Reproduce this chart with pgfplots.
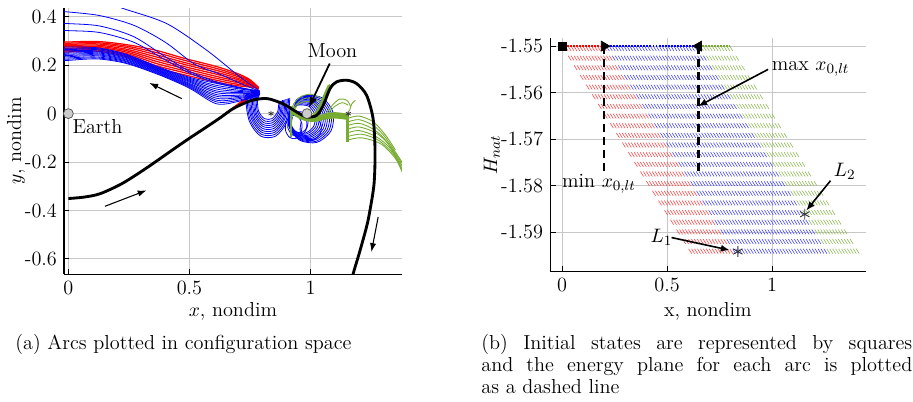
\documentclass[border=0pt]{standalone}
\usepackage{fontspec}
\usepackage{pgfplots}
\pgfplotsset{compat=1.18}
\usetikzlibrary{arrows.meta}
\definecolor{mgreen}{rgb}{0.466,0.674,0.188}
\definecolor{mred}{rgb}{1,0,0}
\definecolor{mblue}{rgb}{0,0,1}
\definecolor{gridc}{gray}{0.78}
\pgfplotsset{
 mystyle/.style={
   scale only axis, axis lines*=left, tick align=inside, major tick length=3pt,
   grid=major, major grid style={gridc, line width=0.5pt},
   axis line style={line width=0.6pt},
   tick style={black, line width=0.5pt},
   unbounded coords=jump,
 },
 rl/.style={mred, line width=0.7pt, smooth},
 bl/.style={mblue, line width=0.45pt, smooth},
 gl/.style={mgreen, line width=0.5pt, smooth},
 hatch/.style={line width=0.32pt, dash pattern=on 3.2pt off 3.2pt},
}
\begin{document}
\fontsize{11.4}{13.7}\selectfont
\begin{tikzpicture}
\path[use as bounding box] (0,0) rectangle (513.6pt,225.6pt);
% ---------------- left axis ----------------
\begin{axis}[mystyle, at={(36pt,71.44pt)}, anchor=south west, width=190.1pt, height=149.6pt,
 xmin=-0.018, xmax=1.377, ymin=-0.663, ymax=0.436,
 xtick={0,0.5,1}, xticklabels={0,0.5,1},
 ytick={-0.6,-0.4,-0.2,0,0.2,0.4}, yticklabels={-0.6,-0.4,-0.2,0,0.2,0.4},
 xlabel={$x$, nondim}, ylabel={$y$, nondim},
 xlabel style={at={(axis description cs:0.5,0)}, anchor=base, yshift=-23.6pt},
 ylabel style={at={([xshift=-27pt]axis description cs:0,0.5)}, anchor=center},
]
% red wedge
\addplot[mred, line width=0.5pt] coordinates {(0.598,-0.036)(0.785,0.104) (0,nan) (0.62,-0.022)(0.785,0.104) (0,nan) (0.64,-0.008)(0.785,0.104) (0,nan) (0.66,0.007)(0.785,0.104) (0,nan) (0.68,0.020)(0.785,0.104) (0,nan) (0.70,0.030)(0.785,0.104) (0,nan) (0.72,0.040)(0.785,0.104) (0,nan) (0.745,0.050)(0.785,0.104)};
% red return arcs
\addplot[rl] coordinates {(0.785,0.108)(0.75,0.140)(0.70,0.165)(0.61,0.195)(0.48,0.228)(0.36,0.262)(0.24,0.285)(0.12,0.298)(0,0.296)(-0.02,0.296)};
\addplot[rl] coordinates {(0.785,0.1075)(0.75,0.136)(0.70,0.159)(0.61,0.187)(0.48,0.220)(0.36,0.253)(0.24,0.279)(0.12,0.293)(0,0.291)(-0.02,0.291)};
\addplot[rl] coordinates {(0.785,0.107)(0.75,0.133)(0.70,0.153)(0.61,0.179)(0.48,0.211)(0.36,0.244)(0.24,0.273)(0.12,0.288)(0,0.286)(-0.02,0.286)};
\addplot[rl] coordinates {(0.785,0.1065)(0.75,0.129)(0.70,0.146)(0.61,0.171)(0.48,0.203)(0.36,0.235)(0.24,0.266)(0.12,0.283)(0,0.281)(-0.02,0.281)};
\addplot[rl] coordinates {(0.785,0.106)(0.75,0.125)(0.70,0.140)(0.61,0.163)(0.48,0.194)(0.36,0.226)(0.24,0.260)(0.12,0.278)(0,0.276)(-0.02,0.276)};
\addplot[rl] coordinates {(0.785,0.1055)(0.75,0.121)(0.70,0.134)(0.61,0.154)(0.48,0.186)(0.36,0.217)(0.24,0.254)(0.12,0.273)(0,0.270)(-0.02,0.270)};
\addplot[rl] coordinates {(0.785,0.105)(0.75,0.118)(0.70,0.128)(0.61,0.146)(0.48,0.177)(0.36,0.208)(0.24,0.248)(0.12,0.268)(0,0.265)(-0.02,0.265)};
\addplot[rl] coordinates {(0.785,0.1045)(0.75,0.114)(0.70,0.121)(0.61,0.138)(0.48,0.169)(0.36,0.199)(0.24,0.241)(0.12,0.263)(0,0.260)(-0.02,0.260)};
\addplot[rl] coordinates {(0.785,0.104)(0.75,0.110)(0.70,0.115)(0.61,0.130)(0.48,0.160)(0.36,0.190)(0.24,0.235)(0.12,0.258)(0,0.255)(-0.02,0.255)};
% blue top lines
\addplot[bl] coordinates {(-0.02,0.421)(0,0.42)(0.13,0.405)(0.27,0.365)(0.40,0.295)(0.52,0.205)(0.62,0.165)(0.71,0.125)(0.79,0.092)};
\addplot[bl] coordinates {(-0.02,0.373)(0,0.372)(0.13,0.362)(0.27,0.318)(0.40,0.235)(0.50,0.175)(0.60,0.135)(0.70,0.110)(0.79,0.092)};
\addplot[bl] coordinates {(-0.02,0.344)(0,0.343)(0.13,0.335)(0.27,0.295)(0.40,0.222)(0.50,0.168)(0.60,0.130)(0.70,0.107)(0.79,0.092)};
\addplot[bl] coordinates {(0.20,0.445)(0.227,0.434)(0.406,0.372)(0.571,0.262)(0.708,0.152)(0.777,0.103)(0.79,0.092)};
% blue band
\addplot[bl] coordinates {(-0.02,0.275)(0,0.275)(0.12,0.272)(0.24,0.245)(0.38,0.190)(0.50,0.150)(0.61,0.125)(0.70,0.108)(0.79,0.092)};
\addplot[bl] coordinates {(-0.02,0.270)(0,0.270)(0.12,0.268)(0.24,0.242)(0.38,0.187)(0.50,0.146)(0.61,0.117)(0.70,0.103)(0.79,0.091)};
\addplot[bl] coordinates {(-0.02,0.265)(0,0.265)(0.12,0.264)(0.24,0.238)(0.38,0.184)(0.50,0.142)(0.61,0.110)(0.70,0.097)(0.79,0.089)};
\addplot[bl] coordinates {(-0.02,0.260)(0,0.260)(0.12,0.259)(0.24,0.235)(0.38,0.181)(0.50,0.138)(0.61,0.102)(0.70,0.092)(0.79,0.088)};
\addplot[bl] coordinates {(-0.02,0.255)(0,0.255)(0.12,0.255)(0.24,0.231)(0.38,0.178)(0.50,0.134)(0.61,0.094)(0.70,0.087)(0.79,0.087)};
\addplot[bl] coordinates {(-0.02,0.250)(0,0.250)(0.12,0.251)(0.24,0.228)(0.38,0.175)(0.50,0.130)(0.61,0.087)(0.70,0.082)(0.79,0.086)};
\addplot[bl] coordinates {(-0.02,0.245)(0,0.245)(0.12,0.247)(0.24,0.224)(0.38,0.173)(0.50,0.125)(0.61,0.079)(0.70,0.076)(0.79,0.084)};
\addplot[bl] coordinates {(-0.02,0.240)(0,0.240)(0.12,0.243)(0.24,0.221)(0.38,0.170)(0.50,0.121)(0.61,0.072)(0.70,0.071)(0.79,0.083)};
\addplot[bl] coordinates {(-0.02,0.235)(0,0.235)(0.12,0.239)(0.24,0.217)(0.38,0.167)(0.50,0.117)(0.61,0.064)(0.70,0.066)(0.79,0.082)};
\addplot[bl] coordinates {(-0.02,0.230)(0,0.230)(0.12,0.234)(0.24,0.214)(0.38,0.164)(0.50,0.113)(0.61,0.056)(0.70,0.061)(0.79,0.081)};
\addplot[bl] coordinates {(-0.02,0.225)(0,0.225)(0.12,0.230)(0.24,0.210)(0.38,0.161)(0.50,0.109)(0.61,0.049)(0.70,0.055)(0.79,0.079)};
\addplot[bl] coordinates {(-0.02,0.220)(0,0.220)(0.12,0.226)(0.24,0.207)(0.38,0.158)(0.50,0.105)(0.61,0.041)(0.70,0.050)(0.79,0.078)};
% blue loops under the tip
\addplot[bl] coordinates {(0.79,0.085)(0.781,0.051)(0.786,0.008)(0.810,-0.021)(0.840,-0.021)(0.864,0.008)(0.869,0.051)};
\addplot[bl] coordinates {(0.79,0.085)(0.776,0.053)(0.782,0.003)(0.808,-0.029)(0.842,-0.029)(0.868,0.003)(0.874,0.053)};
\addplot[bl] coordinates {(0.79,0.085)(0.771,0.054)(0.777,-0.001)(0.806,-0.037)(0.844,-0.037)(0.873,-0.001)(0.879,0.054)};
\addplot[bl] coordinates {(0.79,0.085)(0.766,0.056)(0.773,-0.005)(0.804,-0.045)(0.846,-0.045)(0.877,-0.005)(0.884,0.056)};
\addplot[bl] coordinates {(0.79,0.085)(0.761,0.057)(0.769,-0.010)(0.803,-0.053)(0.847,-0.053)(0.881,-0.010)(0.889,0.057)};
\addplot[bl] coordinates {(0.79,0.085)(0.756,0.059)(0.764,-0.014)(0.801,-0.061)(0.849,-0.061)(0.886,-0.014)(0.894,0.059)};
\addplot[bl] coordinates {(0.79,0.085)(0.751,0.060)(0.760,-0.018)(0.799,-0.069)(0.851,-0.069)(0.890,-0.018)(0.899,0.060)};
\addplot[bl] coordinates {(0.79,0.085)(0.746,0.062)(0.756,-0.022)(0.798,-0.077)(0.852,-0.077)(0.894,-0.022)(0.904,0.062)};
\addplot[bl] coordinates {(0.79,0.085)(0.741,0.063)(0.751,-0.027)(0.796,-0.085)(0.854,-0.085)(0.899,-0.027)(0.909,0.063)};
\addplot[bl] coordinates {(0.79,0.085)(0.736,0.065)(0.747,-0.031)(0.794,-0.093)(0.856,-0.093)(0.903,-0.031)(0.914,0.065)};
% blue loops round the Moon
\addplot[bl] coordinates {(0.917,0.008)(0.912,-0.038)(0.938,-0.074)(0.979,-0.080)(1.013,-0.052)(1.018,-0.006)(0.993,0.030)(0.951,0.036)(0.930,0.024)};
\addplot[bl] coordinates {(0.917,0.010)(0.912,-0.039)(0.939,-0.078)(0.984,-0.084)(1.021,-0.054)(1.026,-0.005)(0.999,0.034)(0.954,0.040)(0.931,0.027)};
\addplot[bl] coordinates {(0.918,0.013)(0.911,-0.040)(0.941,-0.082)(0.990,-0.089)(1.028,-0.057)(1.035,-0.004)(1.005,0.038)(0.956,0.045)(0.932,0.031)};
\addplot[bl] coordinates {(0.918,0.015)(0.911,-0.041)(0.943,-0.086)(0.995,-0.093)(1.036,-0.059)(1.043,-0.003)(1.011,0.042)(0.959,0.049)(0.933,0.034)};
\addplot[bl] coordinates {(0.918,0.017)(0.910,-0.042)(0.945,-0.090)(1.000,-0.097)(1.044,-0.061)(1.052,-0.002)(1.018,0.046)(0.962,0.053)(0.934,0.038)};
\addplot[bl] coordinates {(0.918,0.019)(0.910,-0.043)(0.946,-0.093)(1.005,-0.102)(1.052,-0.063)(1.060,-0.001)(1.024,0.049)(0.965,0.058)(0.935,0.041)};
\addplot[bl] coordinates {(0.918,0.022)(0.910,-0.045)(0.948,-0.097)(1.010,-0.106)(1.060,-0.066)(1.068,0.001)(1.030,0.053)(0.968,0.062)(0.936,0.045)};
\addplot[bl] coordinates {(0.918,0.024)(0.909,-0.046)(0.950,-0.101)(1.015,-0.110)(1.068,-0.068)(1.077,0.002)(1.036,0.057)(0.971,0.066)(0.937,0.048)};
\addplot[bl] coordinates {(0.918,0.026)(0.909,-0.047)(0.952,-0.105)(1.021,-0.115)(1.076,-0.070)(1.085,0.003)(1.043,0.061)(0.973,0.071)(0.938,0.052)};
\addplot[bl] coordinates {(0.918,0.028)(0.909,-0.048)(0.953,-0.109)(1.026,-0.119)(1.084,-0.072)(1.093,0.004)(1.049,0.065)(0.976,0.075)(0.940,0.055)};
\addplot[bl] coordinates {(0.925,-0.013)(0.921,-0.047)(0.938,-0.074)(0.964,-0.078)(0.985,-0.058)(0.989,-0.023)(0.973,0.004)(0.946,0.008)(0.933,-0.001)};
\addplot[bl] coordinates {(0.910,-0.020)(0.906,-0.058)(0.925,-0.088)(0.955,-0.093)(0.980,-0.070)(0.984,-0.032)(0.965,-0.002)(0.935,0.003)(0.919,-0.007)};
\addplot[bl] coordinates {(0.900,-0.030)(0.896,-0.068)(0.913,-0.098)(0.939,-0.103)(0.960,-0.080)(0.964,-0.042)(0.948,-0.012)(0.921,-0.007)(0.908,-0.017)};
\addplot[bl] coordinates {(0.961,-0.035)(0.957,-0.073)(0.978,-0.103)(1.012,-0.108)(1.039,-0.085)(1.043,-0.047)(1.023,-0.017)(0.988,-0.012)(0.971,-0.022)};
% green
\addplot[gl] coordinates {(0.921,0.0)(0.93,0.04)(0.96,0.07)(1.00,0.08)(1.04,0.065)(1.06,0.04)};
\addplot[gl] coordinates {(0.921,-0.02)(0.935,0.03)(0.965,0.058)(1.0,0.065)(1.035,0.05)};
\addplot[gl] coordinates {(0.93,0.01)(0.95,0.04)(0.98,0.05)(1.01,0.045)(1.03,0.03)};
\addplot[gl] coordinates {(1.06,-0.005)(1.09,0.035)(1.12,0.06)(1.15,0.055)(1.165,0.03)};
\addplot[gl] coordinates {(1.07,0.0)(1.10,0.03)(1.13,0.045)(1.155,0.035)};
\addplot[gl] coordinates {(1.16,0.01)(1.17,0.04)(1.185,0.055)};
\addplot[mgreen, line width=1.1pt] coordinates {(0.920,-0.097)(0.920,0.03)};
\addplot[mgreen, line width=1.1pt, smooth] coordinates {(0.915,0.022)(0.94,0.000)(0.975,-0.016)(1.02,-0.020)(1.06,-0.010)(1.10,-0.004)(1.152,-0.010)};
\addplot[mgreen, line width=1.1pt, smooth] coordinates {(0.915,0.015)(0.94,-0.006)(0.975,-0.022)(1.02,-0.026)(1.06,-0.016)(1.10,-0.010)(1.152,-0.016)};
\addplot[mgreen, line width=1.1pt, smooth] coordinates {(0.918,0.008)(0.945,-0.012)(0.98,-0.027)(1.02,-0.030)(1.06,-0.021)(1.10,-0.016)(1.152,-0.022)};
\addplot[mgreen, line width=1.1pt, smooth] coordinates {(0.92,0.030)(0.94,0.005)(0.975,-0.010)(1.02,-0.014)(1.06,-0.004)(1.10,0.002)(1.152,-0.004)};
\addplot[mgreen, line width=1pt, smooth] coordinates {(1.0,-0.02)(1.025,0.01)(1.045,0.05)(1.062,0.09)(1.075,0.118)};
\addplot[mgreen, line width=1pt, smooth] coordinates {(1.005,-0.02)(1.03,0.012)(1.05,0.055)(1.068,0.095)(1.08,0.12)};
\addplot[mgreen, line width=1.5pt] coordinates {(1.152,-0.003)(1.152,-0.117)};
\addplot[gl] coordinates {(1.152,-0.020)(1.20,-0.010)(1.26,-0.035)(1.31,-0.090)(1.35,-0.150)};
\addplot[gl] coordinates {(1.152,-0.035)(1.20,-0.025)(1.26,-0.050)(1.31,-0.100)(1.377,-0.200)};
\addplot[gl] coordinates {(1.152,-0.050)(1.20,-0.040)(1.26,-0.065)(1.31,-0.110)(1.377,-0.205)};
\addplot[gl] coordinates {(1.152,-0.065)(1.20,-0.055)(1.27,-0.080)(1.32,-0.125)(1.377,-0.215)};
\addplot[gl] coordinates {(1.152,-0.080)(1.20,-0.070)(1.27,-0.095)(1.33,-0.145)(1.377,-0.225)};
\addplot[gl] coordinates {(1.152,-0.095)(1.21,-0.085)(1.28,-0.110)(1.34,-0.165)(1.377,-0.232)};
\addplot[gl] coordinates {(1.152,-0.110)(1.21,-0.100)(1.29,-0.125)(1.35,-0.185)(1.377,-0.240)};
% black trajectory
\addplot[black, line width=1.6pt, smooth] coordinates {(0.000,-0.351)(0.065,-0.345)(0.131,-0.331)(0.22,-0.29)(0.309,-0.234)(0.38,-0.185)(0.447,-0.138)(0.51,-0.095)(0.571,-0.055)(0.63,-0.015)(0.681,0.021)(0.749,0.052)(0.80,0.062)(0.832,0.060)(0.887,0.040)(0.942,0.007)(0.983,-0.014)(1.025,-0.007)(1.052,0.034)(1.080,0.103)(1.107,0.131)(1.149,0.138)(1.190,0.124)(1.231,0.076)(1.258,-0.021)(1.266,-0.152)(1.262,-0.289)(1.245,-0.40)(1.231,-0.468)(1.20,-0.58)(1.176,-0.661)(1.17,-0.70)};
% Lagrange points, Earth, Moon
\addplot[only marks, mark=asterisk, mark size=1.6pt, black!80, line width=0.4pt] coordinates {(0.8369,0)(1.1557,0)};
\addplot[only marks, mark=*, mark size=2.8pt, mark options={fill=gray!40, draw=black!70, line width=0.4pt}] coordinates {(0,0)(0.985,0)};
% arrows and labels
\draw[-{Latex[length=5pt,width=3.5pt]}, line width=0.6pt] (axis cs:0.151,-0.383) -- (axis cs:0.323,-0.317);
\draw[-{Latex[length=5pt,width=3.5pt]}, line width=0.6pt] (axis cs:0.468,0.062) -- (axis cs:0.334,0.127);
\draw[-{Latex[length=5pt,width=3.5pt]}, line width=0.6pt] (axis cs:1.279,-0.427) -- (axis cs:1.251,-0.572);
\draw[-{Latex[length=6pt,width=4.5pt]}, line width=1pt] (axis cs:1.079,0.207) -- (axis cs:0.992,0.024);
\node[anchor=west] at (axis cs:-0.012,-0.055) {Earth};
\node at (axis cs:1.09,0.262) {Moon};
\end{axis}
% ---------------- right axis ----------------
\begin{axis}[mystyle, at={(309.5pt,73.1pt)}, anchor=south west, width=177.4pt, height=130.9pt,
 xmin=-0.057, xmax=1.445, ymin=-1.5983, ymax=-1.54835,
 xtick={0,0.5,1}, xticklabels={0,0.5,1},
 ytick={-1.59,-1.58,-1.57,-1.56,-1.55}, yticklabels={-1.59,-1.58,-1.57,-1.56,-1.55},
 xlabel={x, nondim}, ylabel={$H_{nat}$},
 xlabel style={at={(axis description cs:0.5,0)}, anchor=base, yshift=-25.3pt},
 ylabel style={at={([xshift=-32.8pt]axis description cs:0,0.5)}, anchor=center},
]
\addplot[mred!75, hatch] coordinates {
(0.000,-1.55)(0.630,-1.5955) (0,nan) (0.014,-1.55)(0.644,-1.5955) (0,nan) (0.028,-1.55)(0.658,-1.5955) (0,nan)
(0.042,-1.55)(0.672,-1.5955) (0,nan) (0.056,-1.55)(0.686,-1.5955) (0,nan) (0.070,-1.55)(0.700,-1.5955) (0,nan)
(0.084,-1.55)(0.714,-1.5955) (0,nan) (0.098,-1.55)(0.728,-1.5955) (0,nan) (0.112,-1.55)(0.742,-1.5955) (0,nan)
(0.126,-1.55)(0.756,-1.5955) (0,nan) (0.140,-1.55)(0.770,-1.5955) (0,nan) (0.154,-1.55)(0.784,-1.5955) (0,nan)
(0.168,-1.55)(0.798,-1.5955) (0,nan) (0.182,-1.55)(0.812,-1.5955) (0,nan) (0.196,-1.55)(0.826,-1.5955)};
\addplot[mblue!75, hatch] coordinates {
(0.210,-1.55)(0.840,-1.5955) (0,nan) (0.224,-1.55)(0.854,-1.5955) (0,nan) (0.238,-1.55)(0.868,-1.5955) (0,nan)
(0.252,-1.55)(0.882,-1.5955) (0,nan) (0.266,-1.55)(0.896,-1.5955) (0,nan) (0.280,-1.55)(0.910,-1.5955) (0,nan)
(0.294,-1.55)(0.924,-1.5955) (0,nan) (0.308,-1.55)(0.938,-1.5955) (0,nan) (0.322,-1.55)(0.952,-1.5955) (0,nan)
(0.336,-1.55)(0.966,-1.5955) (0,nan) (0.350,-1.55)(0.980,-1.5955) (0,nan) (0.364,-1.55)(0.994,-1.5955) (0,nan)
(0.378,-1.55)(1.008,-1.5955) (0,nan) (0.392,-1.55)(1.022,-1.5955) (0,nan) (0.406,-1.55)(1.036,-1.5955) (0,nan)
(0.420,-1.55)(1.050,-1.5955) (0,nan) (0.434,-1.55)(1.064,-1.5955) (0,nan) (0.448,-1.55)(1.078,-1.5955) (0,nan)
(0.462,-1.55)(1.092,-1.5955) (0,nan) (0.476,-1.55)(1.106,-1.5955) (0,nan) (0.490,-1.55)(1.120,-1.5955) (0,nan)
(0.504,-1.55)(1.134,-1.5955) (0,nan) (0.518,-1.55)(1.148,-1.5955) (0,nan) (0.532,-1.55)(1.162,-1.5955) (0,nan)
(0.546,-1.55)(1.176,-1.5955) (0,nan) (0.560,-1.55)(1.190,-1.5955) (0,nan) (0.574,-1.55)(1.204,-1.5955) (0,nan)
(0.588,-1.55)(1.218,-1.5955) (0,nan) (0.602,-1.55)(1.232,-1.5955) (0,nan) (0.616,-1.55)(1.246,-1.5955) (0,nan)
(0.630,-1.55)(1.260,-1.5955) (0,nan) (0.644,-1.55)(1.274,-1.5955)};
\addplot[mgreen!85, hatch] coordinates {
(0.658,-1.55)(1.288,-1.5955) (0,nan) (0.672,-1.55)(1.302,-1.5955) (0,nan) (0.686,-1.55)(1.316,-1.5955) (0,nan)
(0.700,-1.55)(1.330,-1.5955) (0,nan) (0.714,-1.55)(1.344,-1.5955) (0,nan) (0.728,-1.55)(1.358,-1.5955) (0,nan)
(0.742,-1.55)(1.372,-1.5955) (0,nan) (0.756,-1.55)(1.386,-1.5955) (0,nan) (0.770,-1.55)(1.400,-1.5955) (0,nan)
(0.784,-1.55)(1.414,-1.5955) (0,nan) (0.798,-1.55)(1.428,-1.5955)};
% initial states
\addplot[mred, line width=1.4pt, dash pattern=on 1.1pt off 0.6pt] coordinates {(0.01,-1.55)(0.2,-1.55)};
\addplot[mblue, line width=1.4pt, dash pattern=on 1.1pt off 0.6pt] coordinates {(0.2,-1.55)(0.65,-1.55)};
\addplot[mgreen, line width=1.4pt, dash pattern=on 1.1pt off 0.6pt] coordinates {(0.65,-1.55)(0.80,-1.55)};
\addplot[black, line width=1.3pt, dash pattern=on 4.6pt off 2.7pt] coordinates {(0.2,-1.55)(0.2,-1.5777)};
\addplot[black, line width=1.3pt, dash pattern=on 4.6pt off 2.7pt] coordinates {(0.65,-1.55)(0.65,-1.5777)};
\addplot[only marks, mark=square*, mark size=2.2pt, black] coordinates {(0,-1.55)};
\addplot[only marks, mark=triangle*, mark size=3.2pt, black, mark options={rotate=-90}] coordinates {(0.2,-1.55)};
\addplot[only marks, mark=triangle*, mark size=3.2pt, black, mark options={rotate=90}] coordinates {(0.65,-1.55)};
\addplot[only marks, mark=asterisk, mark size=3pt, black!80, line width=0.5pt] coordinates {(0.8369,-1.5941)(1.1557,-1.5861)};
\draw[-{Latex[length=5pt,width=4pt]}, line width=0.9pt] (axis cs:0.981,-1.5550) -- (axis cs:0.648,-1.5629);
\draw[-{Latex[length=5pt,width=4pt]}, line width=0.9pt] (axis cs:1.278,-1.5789) -- (axis cs:1.163,-1.5853);
\draw[-{Latex[length=5pt,width=4pt]}, line width=0.9pt] (axis cs:0.521,-1.5911) -- (axis cs:0.798,-1.5938);
\node[anchor=west] at (axis cs:0.965,-1.5548) {max $x_{0,lt}$};
\node at (axis cs:0.175,-1.5796) {min $x_{0,lt}$};
\node at (axis cs:1.346,-1.5768) {$L_2$};
\node at (axis cs:0.473,-1.5911) {$L_1$};
\end{axis}
% captions
\node[anchor=base, inner sep=0] at (103.2pt,29.25pt) {(a) Arcs plotted in configuration space};
\node[anchor=base west, inner sep=0] at (270.6pt,29.25pt) {\makebox[242.4pt][s]{(b) Initial states are represented by squares}};
\node[anchor=base west, inner sep=0] at (270.6pt,16.9pt) {\makebox[242.4pt][s]{and the energy plane for each arc is plotted}};
\node[anchor=base west, inner sep=0] at (270.6pt,4.5pt) {as a dashed line};
\end{tikzpicture}
\end{document}
